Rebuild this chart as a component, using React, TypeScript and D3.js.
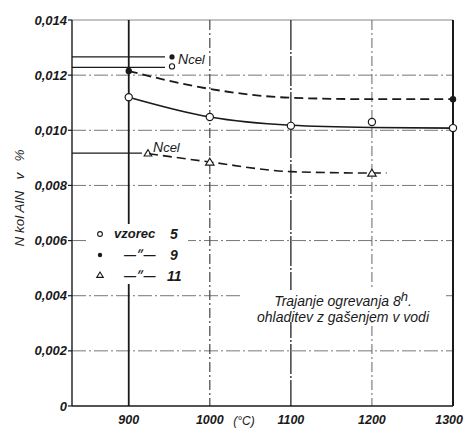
import React from "react";
import * as d3 from "d3";

const yTicks = [0, 0.002, 0.004, 0.006, 0.008, 0.010, 0.012, 0.014];
const yTickLabels = ["0", "0,002", "0,004", "0,006", "0,008", "0,010", "0,012", "0,014"];
const xTicks = [900, 1000, 1100, 1200, 1300];
const xTickLabels = ["900", "1000", "1100", "1200", "1300"];

// vzorec 5 (open circles, solid curve)
const s5PointsX = [900, 1000, 1100, 1200, 1300];
const s5PointsY = [0.0112, 0.01048, 0.01016, 0.0103, 0.01008];
const s5CurveX = [900, 1000, 1100, 1200, 1300];
const s5CurveY = [0.0112, 0.01048, 0.01018, 0.01010, 0.01008];

// vzorec 9 (filled dots, dashed curve)
const s9PointsX = [900, 1300];
const s9PointsY = [0.01215, 0.01113];
const s9CurveX = [900, 1000, 1100, 1200, 1300];
const s9CurveY = [0.01215, 0.0115, 0.01118, 0.01113, 0.01113];

// vzorec 11 (triangles, dashed curve)
const s11PointsX = [1000, 1200];
const s11PointsY = [0.00885, 0.00845];
const s11CurveX = [925, 1000, 1100, 1200, 1218];
const s11CurveY = [0.00915, 0.00885, 0.0085, 0.00845, 0.00845];

// N cel levels
const ncel9 = 0.01266;
const ncel5 = 0.01228;
const ncel11 = 0.00917;

const W = 467;
const H = 429;

export default function App() {
  const x = d3.scaleLinear().domain([830, 1300]).range([72, 453]);
  const y = d3.scaleLinear().domain([0, 0.014]).range([406, 20]);
  const line = d3
    .line<[number, number]>()
    .x((d) => x(d[0]))
    .y((d) => y(d[1]))
    .curve(d3.curveMonotoneX);

  const zip = (a: number[], b: number[]) => a.map((v, i) => [v, b[i]] as [number, number]);
  const font = "'Liberation Sans', Arial, sans-serif";
  const ink = "#1a1a1a";

  const tri = (cx: number, cy: number, r: number) =>
    `M${cx},${cy - r} L${cx + r * 1.1},${cy + r * 0.8} L${cx - r * 1.1},${cy + r * 0.8} Z`;

  return (
    <svg
      width={W}
      height={H}
      style={{ position: "absolute", left: 0, top: 0, background: "#fff" }}
      fontFamily={font}
    >
      <rect x={0} y={0} width={W} height={H} fill="#fff" />
      {/* horizontal grid */}
      {yTicks.slice(1, -1).map((t) => (
        <line
          key={"h" + t}
          x1={x(830)}
          x2={x(1300)}
          y1={y(t)}
          y2={y(t)}
          stroke="#777"
          strokeWidth={1}
          strokeDasharray="14 3 2 3"
        />
      ))}
      {/* top border */}
      <line x1={x(830)} x2={x(1300)} y1={y(0.014)} y2={y(0.014)} stroke="#888" strokeWidth={1} />
      {/* vertical grid */}
      <line x1={x(900)} x2={x(900)} y1={y(0.014)} y2={y(0)} stroke={ink} strokeWidth={1.8} />
      <line x1={x(1000)} x2={x(1000)} y1={y(0.014)} y2={y(0)} stroke="#444" strokeWidth={1.2} strokeDasharray="10 3 2 3" />
      <line x1={x(1100)} x2={x(1100)} y1={y(0.014)} y2={y(0)} stroke="#333" strokeWidth={1.4} strokeDasharray="30 2 2 2" />
      <line x1={x(1200)} x2={x(1200)} y1={y(0.014)} y2={y(0)} stroke="#666" strokeWidth={1} strokeDasharray="10 3 2 3" />
      {/* axes */}
      <line x1={x(830)} x2={x(830)} y1={y(0.014)} y2={y(0)} stroke={ink} strokeWidth={1.4} />
      <line x1={x(830)} x2={x(1300)} y1={y(0)} y2={y(0)} stroke={ink} strokeWidth={1.4} />
      <line x1={x(1300)} x2={x(1300)} y1={y(0.014)} y2={y(0)} stroke={ink} strokeWidth={2} />

      {/* y ticks */}
      {yTicks.map((t, i) => (
        <g key={"yt" + t}>
          <line x1={x(830) - 4} x2={x(830)} y1={y(t)} y2={y(t)} stroke={ink} strokeWidth={1.2} />
          <text
            x={x(830) - 5}
            y={y(t)}
            dy="0.35em"
            textAnchor="end"
            fontSize={13}
            fontStyle="italic"
            fontWeight="bold"
            fill={ink}
          >
            {yTickLabels[i]}
          </text>
        </g>
      ))}
      {/* x tick labels */}
      {xTicks.map((t, i) => (
        <text
          key={"xt" + t}
          x={i === xTicks.length - 1 ? x(t) + 10 : x(t)}
          y={y(0) + 18}
          textAnchor={i === xTicks.length - 1 ? "end" : "middle"}
          fontSize={12.5}
          fontStyle="italic"
          fontWeight="bold"
          fill={ink}
        >
          {xTickLabels[i]}
        </text>
      ))}
      <text x={244} y={425} textAnchor="middle" fontSize={12} fontStyle="italic" fill={ink}>
        (°C)
      </text>

      {/* y axis label */}
      <text
        transform={`translate(24,198) rotate(-90)`}
        textAnchor="middle"
        fontSize={13.5}
        fontStyle="italic"
        fill={ink}
        style={{ whiteSpace: "pre" }}
      >
        {"N kol AlN   v   %"}
      </text>

      {/* N cel reference lines */}
      <line x1={x(830)} x2={165} y1={y(ncel9)} y2={y(ncel9)} stroke={ink} strokeWidth={1.2} />
      <line x1={x(830)} x2={165} y1={y(ncel5)} y2={y(ncel5)} stroke={ink} strokeWidth={1.2} />
      <line x1={x(830)} x2={142} y1={y(ncel11)} y2={y(ncel11)} stroke={ink} strokeWidth={1.2} />
      <circle cx={172} cy={y(ncel9)} r={2.6} fill={ink} />
      <circle cx={172} cy={y(ncel5) - 1} r={2.6} fill="#fff" stroke={ink} strokeWidth={1.1} />
      <text x={178} y={y(ncel5) - 3} fontSize={14} fontStyle="italic" fill={ink}>
        N<tspan fontSize={13}>cel</tspan>
      </text>
      <path d={tri(148, y(ncel11), 3.5)} fill="#fff" stroke={ink} strokeWidth={1.1} />
      <text x={153} y={y(ncel11) - 1} fontSize={14} fontStyle="italic" fill={ink}>
        N<tspan fontSize={13}>cel</tspan>
      </text>

      {/* curves */}
      <path d={line(zip(s9CurveX, s9CurveY)) || ""} fill="none" stroke={ink} strokeWidth={1.8} strokeDasharray="9 5" />
      <path d={line(zip(s5CurveX, s5CurveY)) || ""} fill="none" stroke={ink} strokeWidth={1.6} />
      <path d={line(zip(s11CurveX, s11CurveY)) || ""} fill="none" stroke={ink} strokeWidth={1.6} strokeDasharray="9 5" />

      {/* points */}
      {s5PointsX.map((v, i) => (
        <circle key={"p5" + v} cx={x(v)} cy={y(s5PointsY[i])} r={3.6} fill="#fff" stroke={ink} strokeWidth={1.2} />
      ))}
      {s9PointsX.map((v, i) => (
        <circle key={"p9" + v} cx={x(v)} cy={y(s9PointsY[i])} r={3.2} fill={ink} />
      ))}
      {s11PointsX.map((v, i) => (
        <path key={"p11" + v} d={tri(x(v), y(s11PointsY[i]), 3.8)} fill="#fff" stroke={ink} strokeWidth={1.2} />
      ))}

      {/* legend */}
      <rect x={88} y={224} width={100} height={60} fill="#fff" />
      <circle cx={100} cy={234} r={2.4} fill="#fff" stroke={ink} strokeWidth={1.1} />
      <text x={114} y={238} fontSize={13} fontStyle="italic" fontWeight="bold" fill={ink}>vzorec</text>
      <text x={170} y={239} fontSize={14} fontStyle="italic" fontWeight="bold" fill={ink}>5</text>
      <circle cx={100} cy={255} r={2.2} fill={ink} />
      <text x={124} y={259} fontSize={12} fontStyle="italic" fontWeight="bold" fill={ink}>—״—</text>
      <text x={170} y={260} fontSize={14} fontStyle="italic" fontWeight="bold" fill={ink}>9</text>
      <path d={tri(100, 275, 3)} fill="#fff" stroke={ink} strokeWidth={1.1} />
      <text x={124} y={280} fontSize={12} fontStyle="italic" fontWeight="bold" fill={ink}>—״—</text>
      <text x={167} y={281} fontSize={14} fontStyle="italic" fontWeight="bold" fill={ink}>11</text>

      {/* annotation */}
      <rect x={240} y={290} width={206} height={32} fill="#fff" />
      <text x={343} y={306} textAnchor="middle" fontSize={14} fontStyle="italic" fill={ink}>
        Trajanje  ogrevanja  8<tspan dy="-5" fontSize={13}>h</tspan><tspan dy="5">.</tspan>
      </text>
      <text x={343} y={322} textAnchor="middle" fontSize={14} fontStyle="italic" fill={ink}>
        ohladitev  z gašenjem v vodi
      </text>
    </svg>
  );
}
